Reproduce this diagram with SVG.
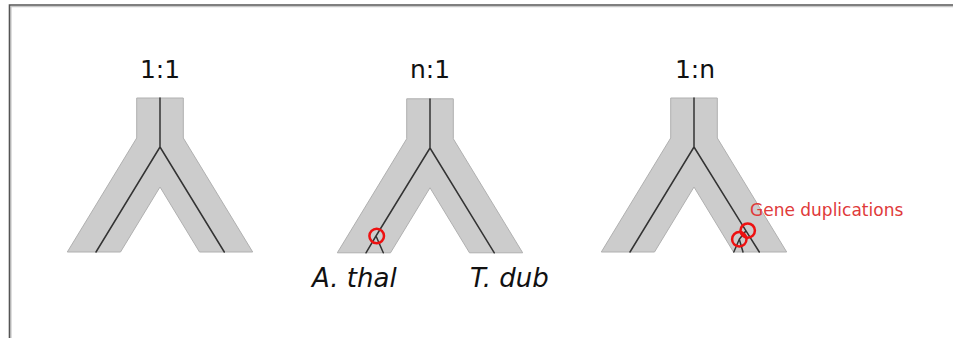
<svg xmlns="http://www.w3.org/2000/svg" xmlns:xlink="http://www.w3.org/1999/xlink" width="953" height="338" viewBox="0 0 953 338">
  <style>
    .tube { fill: #cccccc; stroke: #b0b0b0; stroke-width: 1; }
    .gene { fill: none; stroke: #333333; stroke-width: 1.5; stroke-linecap: round; stroke-linejoin: round; }
    .dup { fill: none; stroke: #ee1111; stroke-width: 2.5; }
    .title { font-family: "DejaVu Sans", sans-serif; font-size: 25px; fill: #111111; text-anchor: middle; }
    .species { font-family: "DejaVu Sans", sans-serif; font-style: italic; font-size: 26px; fill: #111111; }
    .note { font-family: "DejaVu Sans", sans-serif; font-size: 17px; fill: #e03a3a; }
    .frame { fill: none; stroke: #555555; stroke-width: 1.6; }
    .frame-shade { fill: none; stroke: #c8c8c8; stroke-width: 1.2; }
  </style>
  <defs>
    <!-- species tree outline, drawn around x = 0 -->
    <path id="tube" class="tube" d="M-23.3,98 L23.3,98 L23.3,138 L92.7,252 L39.5,252 L0,187 L-39.5,252 L-92.7,252 L-23.3,138 Z"/>
  </defs>

  <rect width="953" height="338" fill="#ffffff"/>

  <!-- page border -->
  <polyline class="frame-shade" points="11,338 11,6.6 953,6.6"/>
  <polyline class="frame" points="9.5,338 9.5,5 953,5"/>

  <!-- 1:1 -->
  <g id="tree-1to1">
    <text class="title" x="160" y="77.5">1:1</text>
    <use xlink:href="#tube" x="160"/>
  </g>

  <!-- n:1 -->
  <g id="tree-nto1">
    <text class="title" x="430" y="78">n:1</text>
    <use xlink:href="#tube" x="430" y="0.8"/>
    <text class="species" x="312" y="287">A. thal</text>
    <text class="species" x="470" y="287">T. dub</text>
  </g>

  <!-- 1:n -->
  <g id="tree-1ton">
    <text class="title" x="695" y="78">1:n</text>
    <use xlink:href="#tube" x="694"/>
    <text class="note" x="750" y="216">Gene duplications</text>
  </g>

  <!-- gene lineages inside the trees -->
  <g id="connectors">
    <path class="gene" d="M160,98 L160,147 M160,147 L96,252 M160,147 L224.3,252"/>
    <path class="gene" d="M430,99 L430,148 M430,148 L376,236 L366,252.8 M376,236 L383.3,252.8 M430,148 L494.3,252.8"/>
    <path class="gene" d="M694,98 L694,147 M694,147 L630,252 M694,147 L746,230.8 L759.3,252 M746,230.8 L739.3,239.3 L733.8,252 M739.3,239.3 L743,252"/>
  </g>

  <!-- duplication events -->
  <g id="duplications">
    <circle class="dup" cx="376.7" cy="236" r="7.3"/>
    <circle class="dup" cx="747.7" cy="230.6" r="7.2"/>
    <circle class="dup" cx="739.3" cy="239.3" r="7.2"/>
  </g>
</svg>
